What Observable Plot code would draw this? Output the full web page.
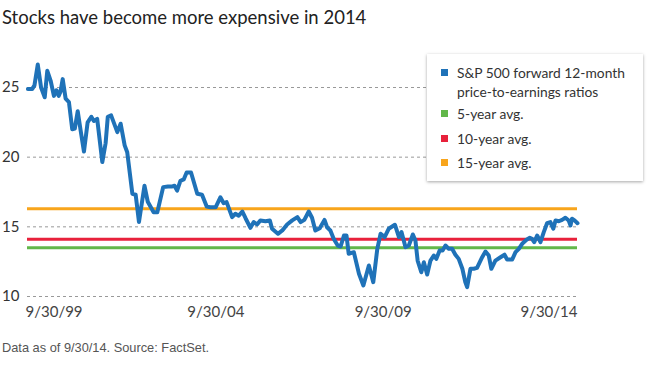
<!DOCTYPE html>
<html>
<head>
<meta charset="utf-8">
<script src="https://cdn.jsdelivr.net/npm/d3@7"></script>
<script src="https://cdn.jsdelivr.net/npm/@observablehq/plot@0.6"></script>
<style>
  html, body { margin: 0; padding: 0; background: #fff; }
  #wrap { position: relative; width: 660px; height: 380px; overflow: hidden; font-family: Lato, "Open Sans", sans-serif; }
  #title { position: absolute; left: 2px; top: 8px; font-size: 18.5px; line-height: 19px; color: #222; white-space: nowrap; }
  #chart { position: absolute; left: 0; top: 40px; }
  #caption { position: absolute; left: 2px; top: 340px; font-family: "Liberation Sans", Arial, sans-serif; font-size: 12.8px; color: #555; white-space: nowrap; }
  #legend { position: absolute; left: 427px; top: 54px; width: 216px; height: 127px; background: #fff; box-shadow: 0 1px 3px rgba(0,0,0,0.35); box-sizing: border-box; }
  .item { position: absolute; left: 14px; font-size: 13.8px; line-height: 19px; color: #333; white-space: nowrap; }
  .sw { position: absolute; left: 0; top: 6px; width: 7px; height: 7px; }
  .lbl { position: absolute; left: 16px; top: 0; }
</style>
</head>
<body>
<div id="wrap">
  <div id="title"></div>
  <div id="chart"></div>
  <div id="legend"></div>
  <div id="caption"></div>
</div>
<script>
const titleText = "Stocks have become more expensive in 2014";
const captionText = "Data as of 9/30/14. Source: FactSet.";

// Series: forward 12-month P/E (decimal year, ratio)
const years = [
  1999.76, 1999.88, 1999.94, 2000.03, 2000.12, 2000.22, 2000.29, 2000.38, 2000.47, 2000.54,
  2000.60, 2000.65, 2000.71, 2000.79, 2000.88, 2000.97, 2001.04, 2001.12, 2001.20, 2001.29,
  2001.39, 2001.49, 2001.56, 2001.65, 2001.79, 2001.88, 2001.94, 2002.03, 2002.20, 2002.29,
  2002.40, 2002.47, 2002.61, 2002.70, 2002.79, 2002.94, 2003.03, 2003.19, 2003.29, 2003.45,
  2003.58, 2003.70, 2003.76, 2003.83, 2003.92, 2004.01, 2004.09, 2004.21, 2004.38, 2004.51,
  2004.64, 2004.74, 2004.88, 2005.01, 2005.10, 2005.18, 2005.33, 2005.42, 2005.51, 2005.61,
  2005.70, 2005.83, 2005.92, 2006.01, 2006.10, 2006.24, 2006.36, 2006.42, 2006.58, 2006.70,
  2006.83, 2006.97, 2007.11, 2007.20, 2007.30, 2007.42, 2007.51, 2007.60, 2007.72, 2007.85,
  2007.92, 2008.01, 2008.10, 2008.21, 2008.29, 2008.38, 2008.45, 2008.51, 2008.65, 2008.79,
  2008.91, 2009.06, 2009.18, 2009.29, 2009.38, 2009.49, 2009.60, 2009.77, 2009.88, 2009.95,
  2010.06, 2010.15, 2010.26, 2010.33, 2010.39, 2010.49, 2010.56, 2010.65, 2010.74, 2010.83,
  2010.90, 2010.99, 2011.07, 2011.15, 2011.24, 2011.33, 2011.42, 2011.51, 2011.61, 2011.69,
  2011.74, 2011.83, 2011.92, 2012.01, 2012.15, 2012.24, 2012.33, 2012.40, 2012.51, 2012.65,
  2012.76, 2012.83, 2012.97, 2013.06, 2013.15, 2013.24, 2013.36, 2013.45, 2013.51, 2013.57,
  2013.65, 2013.74, 2013.83, 2013.92, 2014.01, 2014.09, 2014.15, 2014.24, 2014.33, 2014.42,
  2014.51, 2014.56, 2014.60, 2014.67, 2014.75
];
const peRatios = [
  24.9, 24.9, 25.15, 26.65, 25.0, 24.3, 26.2, 25.5, 24.4, 24.8,
  24.4, 24.7, 25.6, 24.2, 23.95, 22.0, 22.05, 23.3, 21.9, 20.4,
  22.5, 22.9, 22.6, 22.75, 19.65, 21.0, 22.9, 23.0, 21.8, 22.4,
  20.85, 20.35, 17.37, 17.3, 15.35, 17.95, 16.8, 16.05, 16.05, 17.85,
  17.9, 17.9, 17.95, 17.6, 18.3, 18.4, 18.9, 18.9, 17.37, 17.3,
  16.45, 16.4, 16.4, 17.12, 16.7, 16.77, 15.7, 15.94, 15.8, 16.1,
  15.6, 14.93, 15.34, 15.17, 15.46, 15.4, 15.46, 14.86, 14.5, 14.74,
  15.17, 15.46, 15.7, 15.34, 15.5, 16.1, 15.65, 14.74, 14.9, 15.5,
  14.97, 14.74, 14.14, 13.66, 13.59, 14.38, 14.38, 13.07, 13.18, 11.63,
  10.79, 12.23, 11.03, 13.42, 14.5, 14.26, 14.86, 15.15, 14.26, 14.62,
  13.54, 13.66, 14.45, 14.02, 12.58, 11.74, 12.46, 11.58, 12.58, 12.94,
  12.7, 13.3, 13.3, 13.66, 13.42, 13.42, 13.0, 12.7, 11.99, 11.03,
  10.67, 11.99, 11.99, 12.06, 12.82, 13.23, 12.94, 11.99, 12.58, 12.82,
  13.0, 12.66, 12.66, 13.18, 13.42, 13.78, 14.07, 14.21, 14.14, 13.9,
  14.38, 13.9, 14.62, 15.26, 15.34, 14.86, 15.46, 15.4, 15.5, 15.65,
  15.45, 15.1, 15.58, 15.46, 15.26
];

// Average lines
const avgNames = ["5-year avg.", "10-year avg.", "15-year avg."];
const avgValues = [13.5, 14.1, 16.3];
const avgColors = ["#62b74a", "#e8213b", "#f8a51c"];

const seriesName = ["S&P 500 forward 12-month", "price-to-earnings ratios"];
const seriesColor = "#1f72b8";

// Axes
const yTicks = [10, 15, 20, 25];
const xTickYears = [1999.75, 2004.75, 2009.75, 2014.75];
const xTickLabels = ["9/30/99", "9/30/04", "9/30/09", "9/30/14"];

const data = years.map((y, i) => ({year: y, pe: peRatios[i]}));
const avgs = avgValues.map((v, i) => ({name: avgNames[i], value: v, color: avgColors[i]}));
const fmtX = d => xTickLabels[xTickYears.indexOf(d)];

document.getElementById("title").textContent = titleText;
document.getElementById("caption").textContent = captionText;

const axisStyle = {tickSize: 0, fontSize: 15, fill: "#444", tickPadding: 10, tickFormat: fmtX, label: null};

const chart = Plot.plot({
  width: 660,
  height: 290,
  marginLeft: 27,
  marginRight: 83,
  marginTop: 47,
  marginBottom: 34,
  style: {fontFamily: "Lato, 'Open Sans', sans-serif", background: "transparent", overflow: "visible"},
  x: {type: "linear", domain: [1999.75, 2014.75]},
  y: {domain: [10, 25]},
  marks: [
    Plot.ruleY(yTicks, {stroke: "#999", strokeWidth: 1, strokeDasharray: "3,3"}),
    Plot.ruleY(avgs, {y: "value", stroke: "color", strokeWidth: 3}),
    Plot.line(data, {x: "year", y: "pe", stroke: seriesColor, strokeWidth: 4, strokeLinejoin: "round"}),
    Plot.axisY({ticks: yTicks, tickSize: 0, tickPadding: 8, fontSize: 15, fill: "#333", label: null}),
    Plot.axisX({...axisStyle, ticks: [xTickYears[0]], textAnchor: "start", dx: -2}),
    Plot.axisX({...axisStyle, ticks: [xTickYears[1]], dx: 5}),
    Plot.axisX({...axisStyle, ticks: [xTickYears[2]], dx: -11}),
    Plot.axisX({...axisStyle, ticks: [xTickYears[3]], textAnchor: "end"})
  ]
});
document.getElementById("chart").appendChild(chart);

// Legend
const legend = document.getElementById("legend");
const items = [
  {color: seriesColor, lines: seriesName, top: 9},
  {color: avgColors[0], lines: [avgNames[0]], top: 50},
  {color: avgColors[1], lines: [avgNames[1]], top: 75},
  {color: avgColors[2], lines: [avgNames[2]], top: 99}
];
for (const it of items) {
  const d = document.createElement("div");
  d.className = "item";
  d.style.top = it.top + "px";
  const sw = document.createElement("div");
  sw.className = "sw";
  sw.style.background = it.color;
  const lb = document.createElement("div");
  lb.className = "lbl";
  lb.innerHTML = it.lines.map(s => s.replace(/&/g, "&amp;")).join("<br>");
  d.appendChild(sw);
  d.appendChild(lb);
  legend.appendChild(d);
}
</script>
</body>
</html>
